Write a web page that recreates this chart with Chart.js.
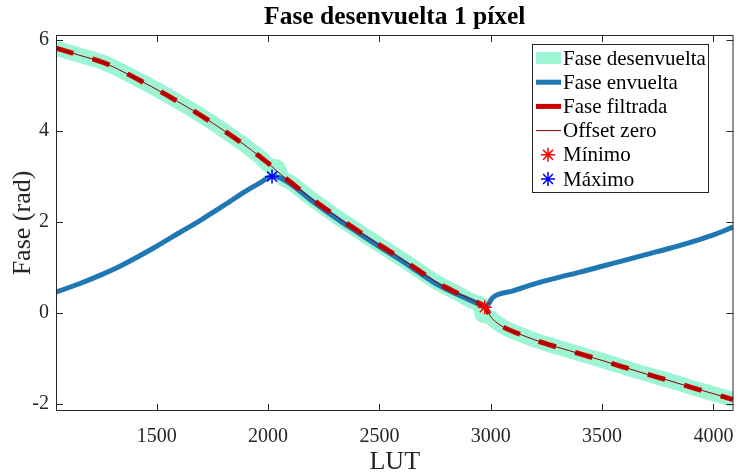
<!DOCTYPE html>
<html>
<head>
<meta charset="utf-8">
<script src="https://cdn.jsdelivr.net/npm/chart.js@4.4.1/dist/chart.umd.min.js"></script>
<style>
  html, body { margin: 0; padding: 0; background: #fff; }
  #wrap { width: 742px; height: 475px; }
</style>
</head>
<body>
<div id="wrap"><canvas id="myChart" width="742" height="475"></canvas></div>
<script>
// LUT positions and phase values
const lutX = [1048, 1150, 1263, 1350, 1433, 1520, 1594, 1680, 1750, 1820, 1893, 1960, 2018, 2035, 2100, 2183, 2250, 2317, 2400, 2500, 2600, 2700, 2763, 2850, 2950, 2975, 3000, 3030, 3066, 3150, 3240, 3350, 3500, 3600, 3700, 3800, 3900, 4000, 4088];
const faseFiltrada = [5.82, 5.67, 5.50, 5.30, 5.09, 4.86, 4.65, 4.40, 4.18, 3.95, 3.70, 3.45, 3.22, 3.14, 2.88, 2.56, 2.32, 2.09, 1.82, 1.50, 1.19, 0.86, 0.66, 0.44, 0.21, 0.14, -0.08, -0.22, -0.33, -0.50, -0.66, -0.82, -1.04, -1.19, -1.34, -1.48, -1.63, -1.77, -1.90];

// unwrapped phase (raw) has two small glitches
const desX = [1048, 1150, 1263, 1350, 1433, 1520, 1594, 1680, 1750, 1820, 1893, 1960, 2018, 2030, 2045, 2060, 2100, 2183, 2250, 2317, 2400, 2500, 2600, 2700, 2763, 2850, 2950, 2955, 2960, 2975, 3000, 3030, 3066, 3150, 3240, 3350, 3500, 3600, 3700, 3800, 3900, 4000, 4088];
const faseDesenvuelta = [5.82, 5.67, 5.50, 5.30, 5.09, 4.86, 4.65, 4.40, 4.18, 3.95, 3.70, 3.45, 3.22, 3.22, 3.20, 3.00, 2.88, 2.56, 2.32, 2.09, 1.82, 1.50, 1.19, 0.86, 0.66, 0.44, 0.21, 0.20, -0.03, -0.06, -0.10, -0.22, -0.33, -0.50, -0.66, -0.82, -1.04, -1.19, -1.34, -1.48, -1.63, -1.77, -1.90];

const envX = [1048, 1150, 1250, 1335, 1420, 1500, 1600, 1700, 1800, 1900, 1960, 2018, 2030, 2100, 2183, 2250, 2317, 2400, 2500, 2600, 2700, 2763, 2850, 2950, 2973, 2990, 3005, 3020, 3100, 3200, 3300, 3400, 3500, 3600, 3700, 3800, 3900, 4000, 4088];
const faseEnvuelta = [0.46, 0.64, 0.84, 1.03, 1.25, 1.47, 1.76, 2.05, 2.36, 2.68, 2.85, 3.00, 3.00, 2.84, 2.52, 2.28, 2.05, 1.78, 1.46, 1.15, 0.82, 0.62, 0.41, 0.19, 0.13, 0.20, 0.32, 0.38, 0.49, 0.65, 0.78, 0.90, 1.03, 1.16, 1.29, 1.42, 1.56, 1.72, 1.89];

const minimo = { x: 2973, y: 0.13 };
const maximo = { x: 2018, y: 3.00 };

const xTicks = [1500, 2000, 2500, 3000, 3500, 4000];
const yTicks = [-2, 0, 2, 4, 6];

const toPoints = (xs, ys) => xs.map((x, i) => ({ x: x, y: ys[i] }));

const serif = '"Liberation Serif", "Times New Roman", serif';
const axisColor = '#262626';

// box around the axes with inward ticks on all four sides
const frame = {
    id: 'frame',
    afterDatasetsDraw(chart) {
        const { ctx, chartArea: a, scales } = chart;
        ctx.save();
        ctx.strokeStyle = axisColor;
        ctx.lineWidth = 1;
        ctx.strokeRect(a.left + 0.5, a.top + 0.5, a.right - a.left - 1, a.bottom - a.top - 1);
        ctx.beginPath();
        xTicks.forEach(v => {
            const px = Math.round(scales.x.getPixelForValue(v)) + 0.5;
            ctx.moveTo(px, a.bottom); ctx.lineTo(px, a.bottom - 7);
            ctx.moveTo(px, a.top); ctx.lineTo(px, a.top + 7);
        });
        yTicks.forEach(v => {
            const py = Math.round(scales.y.getPixelForValue(v)) + 0.5;
            ctx.moveTo(a.left, py); ctx.lineTo(a.left + 7, py);
            ctx.moveTo(a.right, py); ctx.lineTo(a.right - 7, py);
        });
        ctx.stroke();
        ctx.restore();
    }
};

// MATLAB style legend box in the upper right
const boxLegend = {
    id: 'boxLegend',
    afterDraw(chart) {
        const ctx = chart.ctx;
        const x0 = 532, y0 = 44, w = 176, h = 148, row = 24.2;
        ctx.save();
        ctx.fillStyle = '#fff';
        ctx.fillRect(x0, y0, w, h);
        ctx.strokeStyle = axisColor;
        ctx.lineWidth = 1;
        ctx.strokeRect(x0 + 0.5, y0 + 0.5, w, h);
        ctx.font = '21px ' + serif;
        ctx.textBaseline = 'middle';
        chart.data.datasets.forEach((ds, i) => {
            const cy = y0 + 14 + i * row;
            if (ds.showLine) {
                ctx.strokeStyle = ds.borderColor;
                ctx.lineWidth = ds.legendWidth || ds.borderWidth;
                ctx.beginPath();
                ctx.moveTo(536, cy); ctx.lineTo(561, cy);
                ctx.stroke();
            } else {
                ctx.strokeStyle = ds.pointBorderColor;
                ctx.lineWidth = ds.pointBorderWidth;
                Chart.helpers.drawPoint(ctx, {
                    pointStyle: ds.pointStyle, radius: ds.pointRadius,
                    borderWidth: ds.pointBorderWidth
                }, 548, cy);
            }
            ctx.fillStyle = '#000';
            ctx.fillText(ds.label, 563, cy + 1);
        });
        ctx.restore();
    }
};

const ctx = document.getElementById('myChart').getContext('2d');

new Chart(ctx, {
    type: 'scatter',
    data: {
        datasets: [
            {
                label: 'Fase desenvuelta',
                data: toPoints(desX, faseDesenvuelta),
                showLine: true,
                borderColor: '#9df5d3',
                borderWidth: 15,
                legendWidth: 12,
                pointRadius: 0,
                cubicInterpolationMode: 'monotone',
                borderJoinStyle: 'round',
                order: 6
            },
            {
                label: 'Fase envuelta',
                data: toPoints(envX, faseEnvuelta),
                showLine: true,
                borderColor: '#1f77b4',
                borderWidth: 5,
                pointRadius: 0,
                cubicInterpolationMode: 'monotone',
                borderJoinStyle: 'round',
                order: 5
            },
            {
                label: 'Fase filtrada',
                data: toPoints(lutX, faseFiltrada),
                showLine: true,
                borderColor: '#cc0000',
                borderWidth: 5,
                borderDash: [18, 20],
                pointRadius: 0,
                cubicInterpolationMode: 'monotone',
                order: 4
            },
            {
                label: 'Offset zero',
                data: toPoints(lutX, faseFiltrada),
                showLine: true,
                borderColor: '#8b0000',
                borderWidth: 1,
                pointRadius: 0,
                cubicInterpolationMode: 'monotone',
                order: 3
            },
            {
                label: 'Mínimo',
                data: [minimo],
                showLine: false,
                pointStyle: 'star',
                pointRadius: 7,
                pointBorderWidth: 1.5,
                pointBorderColor: '#ff0000',
                pointBackgroundColor: '#ff0000',
                order: 2
            },
            {
                label: 'Máximo',
                data: [maximo],
                showLine: false,
                pointStyle: 'star',
                pointRadius: 7,
                pointBorderWidth: 1.5,
                pointBorderColor: '#0000ff',
                pointBackgroundColor: '#0000ff',
                order: 1
            }
        ]
    },
    options: {
        responsive: false,
        animation: false,
        devicePixelRatio: 1,
        layout: { padding: { left: 0, right: 5, top: 0, bottom: 0 } },
        plugins: {
            legend: { display: false },
            tooltip: { enabled: false },
            title: {
                display: true,
                fullSize: false,
                text: 'Fase desenvuelta 1 píxel',
                color: '#000',
                font: { family: serif, size: 25.5, weight: 'bold', lineHeight: 1.2 },
                padding: { top: 2, bottom: 2.4 }
            }
        },
        scales: {
            x: {
                type: 'linear',
                min: 1048,
                max: 4090,
                grid: { display: false, drawTicks: false },
                border: { display: false },
                afterBuildTicks: s => { s.ticks = xTicks.map(v => ({ value: v })); },
                afterFit: s => { s.height = 64; s.paddingLeft = 0; s.paddingRight = 0; },
                ticks: {
                    color: axisColor,
                    padding: 14,
                    maxRotation: 0,
                    callback: v => String(v),
                    font: { family: serif, size: 20 }
                },
                title: {
                    display: true,
                    text: 'LUT',
                    color: axisColor,
                    font: { family: serif, size: 26, lineHeight: 1 },
                    padding: { top: 0, bottom: 0 }
                }
            },
            y: {
                type: 'linear',
                min: -2.15,
                max: 6.11,
                grid: { display: false, drawTicks: false },
                border: { display: false },
                afterBuildTicks: s => { s.ticks = yTicks.map(v => ({ value: v })); },
                afterFit: s => { s.width = 56; },
                ticks: {
                    color: axisColor,
                    padding: 7,
                    callback: v => String(v),
                    font: { family: serif, size: 20 }
                },
                title: {
                    display: true,
                    text: 'Fase (rad)',
                    color: axisColor,
                    font: { family: serif, size: 26, lineHeight: 1 },
                    padding: { top: 10, bottom: 0 }
                }
            }
        }
    },
    plugins: [frame, boxLegend]
});
</script>
</body>
</html>
